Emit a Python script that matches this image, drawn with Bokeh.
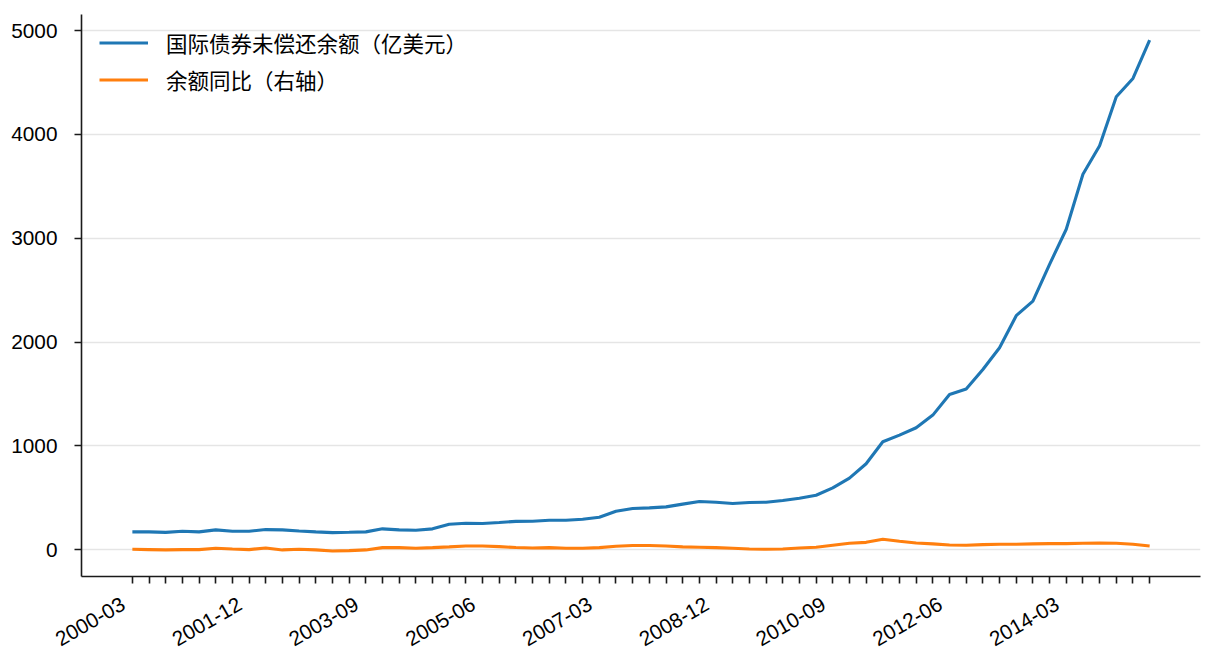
import numpy as np
from bokeh.plotting import figure
from bokeh.models import Range1d, FixedTicker, Legend, LegendItem, LinearAxis
from bokeh.embed import file_html
from bokeh.resources import INLINE

# quarterly periods 2000-03 .. 2015-06
quarters = [f"{y}-{m:02d}" for y in range(2000, 2016) for m in (3, 6, 9, 12)][:62]

# outstanding international bonds (100 million USD)
bond_balance = [171, 171, 166, 177, 171, 190, 177, 177, 193, 190,
                180, 171, 164, 167, 171, 200, 190, 187, 200, 245,
                254, 251, 261, 272, 273, 283, 283, 293, 312, 370,
                396, 402, 412, 438, 463, 457, 444, 454, 457, 473,
                495, 524, 595, 689, 827, 1039, 1103, 1174, 1296, 1495,
                1547, 1736, 1945, 2254, 2395, 2749, 3087, 3617, 3891, 4363,
                4540, 4910]
# year-on-year growth (%)
balance_yoy = [3, 0, -3, 0, 0, 13, 6, 0, 16, -3,
               3, -3, -13, -10, -3, 19, 19, 13, 19, 26,
               35, 35, 29, 20, 16, 19, 13, 13, 19, 32,
               39, 39, 35, 26, 23, 19, 13, 6, 3, 6,
               16, 23, 42, 61, 70, 100, 80, 64, 55, 45,
               42, 48, 52, 52, 55, 58, 58, 61, 64, 61,
               52, 35]

series_names = ["国际债券未偿还余额（亿美元）", "余额同比（右轴）"]
y_ticks = [0, 1000, 2000, 3000, 4000, 5000]

FONT = "Liberation Sans, Noto Sans CJK SC"
FS = "20.8px"

x = list(range(len(quarters)))
lo = min(min(bond_balance), min(balance_yoy))
hi = max(max(bond_balance), max(balance_yoy))
pad = 0.05 * (hi - lo)
xpad = 0.05 * (len(x) - 1)
x0, x1 = -xpad, len(x) - 1 + xpad

p = figure(width=1216, height=672,
           x_range=Range1d(x0, x1),
           y_range=Range1d(lo - pad, hi + pad),
           output_backend="svg", toolbar_location=None, tools="")
p.min_border_left = 81
p.min_border_right = 16
p.min_border_top = 14
p.min_border_bottom = 96
p.outline_line_color = None
p.background_fill_color = "white"

# axes
for ax in (p.xaxis[0], p.yaxis[0]):
    ax.axis_line_color = "#1a1a1a"
    ax.axis_line_width = 1.6
    ax.major_tick_line_color = "#1a1a1a"
    ax.major_tick_line_width = 1.6
    ax.major_tick_out = 7
    ax.major_tick_in = 0
    ax.minor_tick_line_color = None
    ax.major_label_text_font = FONT
    ax.major_label_text_font_size = FS
    ax.major_label_text_color = "black"

p.yaxis.ticker = FixedTicker(ticks=y_ticks)
p.yaxis.major_label_standoff = 17

# every quarter gets a tick, labels are drawn by a second axis
p.xaxis.ticker = FixedTicker(ticks=x)
p.xaxis.major_label_overrides = {i: "" for i in x}
p.xaxis.major_label_standoff = 0

# label axis, nudged a little left like matplotlib's right-aligned rotated labels
shift = 0.54
p.extra_x_ranges = {"lab": Range1d(x0 + shift, x1 + shift)}
lab_axis = LinearAxis(x_range_name="lab",
                      ticker=FixedTicker(ticks=[i for i in x if i % 7 == 0]),
                      axis_line_color=None, major_tick_line_color=None,
                      minor_tick_line_color=None, major_tick_out=0, major_tick_in=0,
                      major_label_overrides={i: quarters[i] for i in x if i % 7 == 0},
                      major_label_orientation=np.pi / 6,
                      major_label_standoff=19,
                      major_label_text_font=FONT,
                      major_label_text_font_size=FS,
                      major_label_text_color="black")
p.add_layout(lab_axis, "below")

p.xgrid.grid_line_color = None
p.ygrid.ticker = FixedTicker(ticks=y_ticks)
p.ygrid.grid_line_color = "#e5e5e5"
p.ygrid.grid_line_width = 1.6

r1 = p.line(x, bond_balance, line_color="#1f77b4", line_width=3.1)
r2 = p.line(x, balance_yoy, line_color="#ff7f0e", line_width=3.1)

legend = Legend(items=[LegendItem(label=series_names[0], renderers=[r1]),
                       LegendItem(label=series_names[1], renderers=[r2])],
                location=(18, 481), margin=0, padding=0, spacing=6,
                glyph_width=49, glyph_height=21, label_height=21,
                label_standoff=18, border_line_color=None,
                background_fill_alpha=0,
                label_text_font=FONT, label_text_font_size="21.5px",
                label_text_color="black")
p.add_layout(legend)

open("out.html", "w").write(file_html(p, INLINE))
